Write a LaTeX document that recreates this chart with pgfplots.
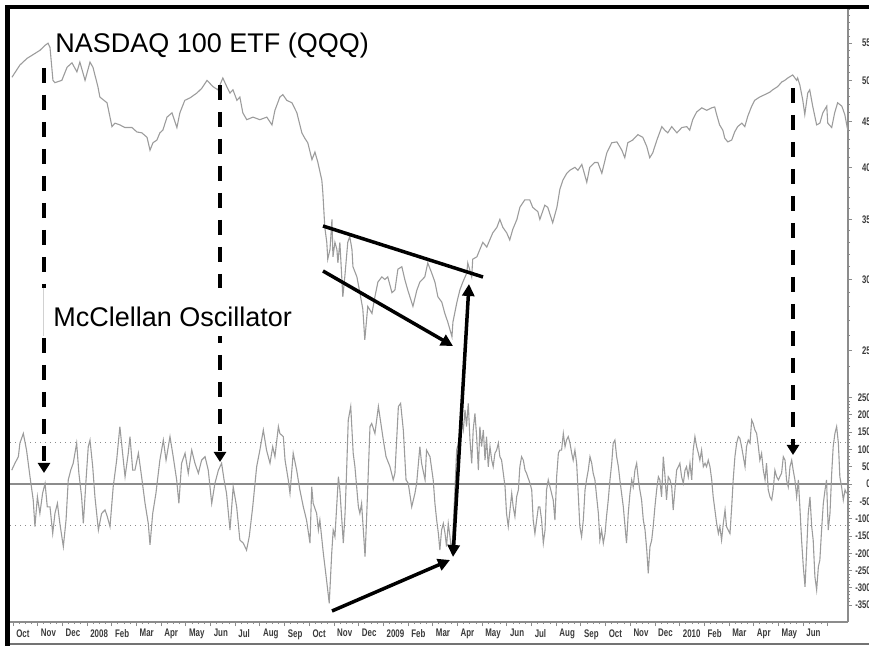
\documentclass[border=0pt]{standalone}
\usepackage{fontspec}
\setmainfont{Liberation Sans}
\usepackage{pgfplots}
\usepackage{pgfplotstable}
\pgfplotsset{compat=1.18}
\usetikzlibrary{arrows.meta}

\definecolor{trace}{HTML}{9C9C9C}
\definecolor{axisgray}{HTML}{8C8C8C}
\definecolor{labelgray}{HTML}{3A3A3A}

% x = months after 1 Oct 2007
\pgfplotstableread{
m price
-0.04 50.4
0.28 52.0
0.57 52.9
0.81 53.4
1.09 54.0
1.30 54.7
1.42 55.0
1.50 54.4
1.62 50.0
1.70 49.7
1.98 50.0
2.19 51.7
2.39 52.3
2.59 51.1
2.71 52.4
2.92 50.0
3.12 52.4
3.24 51.7
3.44 49.2
3.52 47.9
3.81 47.2
4.01 44.4
4.13 44.8
4.33 44.6
4.53 44.3
4.82 44.3
5.02 43.8
5.22 43.7
5.43 43.2
5.55 41.8
5.67 42.6
5.83 42.9
5.95 43.7
6.07 44.0
6.24 45.5
6.44 46.0
6.64 44.3
6.76 46.0
6.96 47.5
7.17 47.8
7.45 48.4
7.65 49.0
7.86 50.0
8.10 49.2
8.30 48.8
8.50 50.3
8.66 49.2
8.79 48.4
8.91 48.8
9.07 47.5
9.19 47.9
9.31 46.0
9.47 45.2
9.72 45.5
10.00 45.2
10.28 45.5
10.49 44.6
10.61 46.3
10.81 47.9
10.93 48.2
11.09 47.5
11.30 47.2
11.50 46.0
11.70 43.7
11.82 43.1
11.94 42.6
12.11 40.8
12.23 41.6
12.35 40.5
12.51 38.7
12.55 37.5
12.63 34.3
12.71 33.0
12.75 31.6
12.84 32.4
12.92 35.0
12.96 31.8
13.04 33.0
13.12 32.4
13.16 31.3
13.24 33.0
13.36 28.7
13.44 30.2
13.56 33.0
13.64 33.5
13.73 32.4
13.77 31.0
13.93 30.2
14.05 29.0
14.17 27.8
14.25 25.7
14.37 28.0
14.54 27.5
14.66 28.7
14.78 29.8
14.94 30.2
15.06 30.0
15.18 30.2
15.35 29.0
15.47 29.2
15.59 30.8
15.75 31.0
15.87 30.0
15.99 29.2
16.20 28.0
16.36 29.2
16.48 29.8
16.68 30.2
16.80 31.3
16.96 30.5
17.09 29.8
17.21 28.7
17.37 28.3
17.49 27.5
17.61 26.9
17.78 25.9
17.82 26.9
17.98 28.3
18.10 29.2
18.22 29.8
18.38 30.5
18.42 31.3
18.58 30.2
18.62 31.6
18.79 31.8
18.91 32.4
19.03 33.0
19.19 32.6
19.31 33.2
19.43 33.8
19.60 34.3
19.72 35.0
19.84 34.3
20.00 33.8
20.12 33.2
20.24 34.1
20.41 35.0
20.53 36.1
20.73 36.8
20.93 36.8
21.05 36.1
21.26 35.7
21.34 35.0
21.54 36.3
21.66 36.1
21.86 34.7
22.03 36.1
22.15 37.8
22.27 38.7
22.43 39.4
22.55 39.7
22.76 40.0
22.88 39.7
23.04 40.3
23.24 38.5
23.36 40.0
23.56 40.5
23.69 40.5
23.85 39.4
24.05 41.5
24.25 42.6
24.46 42.7
24.66 41.8
24.78 41.0
24.90 42.6
25.10 42.9
25.31 43.5
25.51 43.2
25.67 42.2
25.79 41.0
25.91 41.5
26.08 42.9
26.28 44.4
26.40 44.0
26.52 43.7
26.68 44.4
26.89 43.7
27.09 44.3
27.29 44.4
27.41 44.0
27.53 45.2
27.69 46.1
27.90 46.6
28.10 46.3
28.30 46.6
28.42 46.7
28.50 45.8
28.62 44.6
28.75 44.0
28.83 43.1
28.95 42.7
29.11 42.9
29.23 43.8
29.35 44.4
29.52 44.8
29.64 44.4
29.76 45.6
29.92 46.8
30.04 47.5
30.24 47.9
30.45 48.2
30.65 48.5
30.77 48.8
30.97 49.2
31.14 49.8
31.26 50.0
31.38 50.3
31.58 50.7
31.74 50.0
31.78 50.3
31.87 49.4
31.99 47.5
32.07 45.8
32.19 48.4
32.27 48.8
32.39 46.8
32.55 44.6
32.68 44.8
32.80 46.0
32.96 46.8
33.00 44.8
33.16 44.3
33.28 46.0
33.40 47.2
33.57 46.8
33.69 45.8
33.81 44.0
}\qqq

\pgfplotstableread{
m osc
-0.05 40
0.08 60
0.22 79
0.28 118
0.42 146
0.55 98
0.69 21
0.82 -46
0.89 -123
0.99 -37
1.09 -85
1.20 -27
1.30 2
1.39 -66
1.50 -66
1.61 -143
1.70 -85
1.80 -56
1.90 -114
2.04 -181
2.15 -104
2.24 12
2.34 40
2.44 60
2.58 118
2.67 31
2.78 -37
2.85 -114
2.96 12
3.05 108
3.12 127
3.23 50
3.32 -37
3.46 -133
3.59 -85
3.73 -75
3.82 -94
3.93 -123
4.06 -8
4.20 69
4.33 166
4.44 89
4.54 21
4.67 89
4.74 137
4.85 40
4.94 40
5.08 89
5.21 21
5.35 -56
5.48 -114
5.55 -176
5.66 -85
5.79 -27
5.95 69
6.09 127
6.20 69
6.36 137
6.49 79
6.63 12
6.72 -56
6.83 60
6.97 89
7.10 31
7.24 98
7.37 60
7.51 31
7.64 69
7.78 79
7.91 40
8.05 -56
8.18 2
8.32 40
8.45 60
8.55 12
8.65 -27
8.79 -133
8.92 -8
9.06 -66
9.19 -162
9.33 -171
9.46 -191
9.57 -152
9.71 -66
9.87 50
10.00 98
10.14 156
10.27 98
10.41 60
10.52 108
10.61 79
10.75 166
10.81 146
10.95 137
11.02 69
11.15 12
11.22 -27
11.35 89
11.49 40
11.62 -17
11.76 -66
11.89 -104
12.03 -171
12.10 -8
12.16 -56
12.30 -85
12.37 -133
12.43 -104
12.57 -200
12.70 -277
12.81 -345
12.91 -200
12.97 -133
13.04 -152
13.11 -66
13.18 21
13.24 -17
13.38 -171
13.45 -85
13.51 31
13.58 185
13.68 224
13.78 89
13.85 50
13.99 -66
14.05 -85
14.12 -56
14.26 -210
14.32 -104
14.46 166
14.53 175
14.66 146
14.80 224
14.86 195
15.00 127
15.11 79
15.27 50
15.40 12
15.47 31
15.61 224
15.70 233
15.81 156
15.92 12
16.01 2
16.15 -66
16.28 -27
16.35 2
16.48 108
16.55 60
16.69 12
16.75 98
16.89 79
17.02 12
17.09 -56
17.16 -104
17.23 -143
17.29 -191
17.36 -133
17.43 -114
17.50 -143
17.56 -181
17.63 -114
17.70 -152
17.77 -200
17.83 -123
17.90 -17
17.97 98
18.04 118
18.10 108
18.17 185
18.24 156
18.31 214
18.37 166
18.44 233
18.51 127
18.58 60
18.64 156
18.71 204
18.78 137
18.85 40
18.91 166
18.98 108
19.05 156
19.12 69
19.18 137
19.25 50
19.32 108
19.39 69
19.45 50
19.52 89
19.59 98
19.66 118
19.72 79
19.79 69
19.86 31
19.93 -8
19.99 -85
20.06 -123
20.13 -75
20.20 -27
20.26 -66
20.33 -94
20.40 -37
20.47 -17
20.53 50
20.60 79
20.67 69
20.74 40
20.80 31
20.94 2
21.01 -17
21.07 -104
21.14 -143
21.21 -104
21.28 -66
21.34 -66
21.41 -104
21.48 -171
21.55 -133
21.61 -17
21.68 12
21.75 -8
21.88 -46
21.95 -104
22.02 21
22.09 89
22.15 98
22.22 98
22.29 146
22.36 108
22.42 127
22.49 137
22.56 118
22.63 89
22.69 69
22.76 98
22.83 60
22.90 -37
22.96 -123
23.03 -152
23.10 -104
23.17 -17
23.23 12
23.30 40
23.37 79
23.44 60
23.50 31
23.57 12
23.64 -37
23.71 -85
23.77 -162
23.84 -133
23.91 -171
23.98 -143
24.04 -94
24.11 -46
24.18 12
24.25 60
24.31 118
24.38 127
24.45 79
24.52 50
24.58 12
24.65 -27
24.72 -66
24.79 -123
24.85 -171
24.92 -85
24.99 -27
25.06 12
25.12 -8
25.19 40
25.26 60
25.33 12
25.39 -17
25.46 -46
25.53 -104
25.60 -133
25.67 -191
25.73 -258
25.80 -181
25.87 -162
25.93 -123
26.00 -66
26.07 -17
26.14 21
26.20 12
26.27 -37
26.34 79
26.41 21
26.47 -46
26.54 21
26.61 12
26.68 -8
26.74 -75
26.81 -17
26.88 40
26.95 50
27.01 60
27.08 21
27.15 2
27.22 40
27.28 50
27.35 21
27.42 60
27.49 12
27.55 98
27.62 137
27.69 108
27.76 89
27.82 69
27.89 98
27.96 50
28.03 60
28.09 50
28.16 69
28.23 50
28.30 12
28.36 -37
28.43 -75
28.50 -114
28.57 -143
28.63 -123
28.70 -162
28.77 -114
28.84 -75
28.90 -123
28.97 -133
29.04 -143
29.11 -66
29.17 12
29.24 79
29.31 118
29.38 137
29.44 132
29.51 108
29.58 79
29.65 50
29.71 108
29.78 127
29.85 118
29.92 185
29.98 175
30.05 156
30.12 146
30.19 108
30.25 69
30.32 89
30.39 40
30.46 12
30.52 60
30.59 -17
30.66 -37
30.73 -46
30.79 -17
30.86 40
30.93 21
31.00 12
31.06 21
31.13 31
31.20 79
31.27 69
31.33 12
31.40 -8
31.47 50
31.54 69
31.60 40
31.67 12
31.74 -37
31.81 12
31.87 -66
31.94 -162
32.01 -239
32.08 -297
32.14 -200
32.21 -85
32.28 -37
32.35 -123
32.41 -162
32.48 -268
32.55 -306
32.62 -239
32.68 -220
32.75 -133
32.82 -56
32.89 -17
32.95 12
33.02 -133
33.09 -85
33.16 31
33.22 108
33.29 146
33.36 166
33.43 118
33.49 21
33.56 -8
33.63 -46
33.70 -17
33.76 -27
}\mcosc

\begin{document}
\begin{tikzpicture}
\pgfplotsset{
  chartbase/.style={
    scale only axis, width=419pt,
    xmin=-0.12, xmax=33.82,
    axis line style={axisgray, line width=0.6pt},
    tick style={axisgray, line width=0.4pt},
    tick align=outside,
    major tick length=2pt, minor tick length=1pt,
    yticklabel style={font=\fontsize{5.5}{6}\selectfont\bfseries, text=labelgray,
      anchor=east, inner sep=0pt, xshift=9.5pt, xscale=0.7},
  },
}
% price panel
\begin{axis}[chartbase, at={(5pt,-4pt)}, anchor=north west, height=190pt,
  ymode=log, ymin=22.71, ymax=60.2,
  axis x line=none, axis y line*=right,
  ytick={25,30,35,40,45,50,55}, yticklabels={25,30,35,40,45,50,55},
  minor ytick={23,24,26,27,28,29,31,32,33,34,36,37,38,39,41,42,43,44,46,47,48,49,51,52,53,54,56,57,58,59,60},
]
\addplot[trace, line width=0.55pt] table[x=m, y=price] {\qqq};
\end{axis}
% oscillator panel
\begin{axis}[chartbase, at={(5pt,-194pt)}, anchor=north west, height=117pt,
  ymin=-398.8, ymax=277.5,
  axis x line*=bottom, axis y line*=right,
  ytick={-350,-300,...,250},
  yticklabels={-350,-300,-250,-200,-150,-100,-50,0,50,100,150,200,250},
  minor y tick num=4,
  xtick={0,...,33},
  xticklabels={Oct,Nov,Dec,2008,Feb,Mar,Apr,May,Jun,Jul,Aug,Sep,Oct,Nov,Dec,2009,Feb,Mar,Apr,May,Jun,Jul,Aug,Sep,Oct,Nov,Dec,2010,Feb,Mar,Apr,May,Jun,{}},
  minor x tick num=3,
  xticklabel style={font=\fontsize{5.5}{6}\selectfont\bfseries, text=labelgray,
    anchor=north west, inner sep=0pt, xshift=1.5pt, yshift=-1.5pt, xscale=0.72},
]
\addplot[axisgray, line width=0.6pt] coordinates {(-0.12,0) (33.82,0)};
\addplot[axisgray, dotted, line width=0.5pt] coordinates {(-0.12,120) (33.82,120)};
\addplot[axisgray, dotted, line width=0.5pt] coordinates {(-0.12,-120) (33.82,-120)};
\addplot[trace, line width=0.55pt] table[x=m, y=osc] {\mcosc};
\end{axis}

% annotations, in picture pixels (y downwards)
\begin{scope}[x=0.5pt, y=-0.5pt]
  \tikzset{dasharrow/.style={line width=2pt, dash pattern=on 7.5pt off 6pt,
      -{Triangle[length=5pt,width=6pt]}},
    solidarrow/.style={line width=1.75pt, -{Triangle[length=6pt,width=6pt]}}}
  \draw[dasharrow] (44,68) -- (44,473);
  \draw[dasharrow] (220,85) -- (220,462);
  \draw[dasharrow] (793,88) -- (793,455);
  \draw[line width=1.75pt] (323,226) -- (483,277);
  \draw[solidarrow] (323,271) -- (453,346);
  \draw[line width=1.75pt, {Triangle[length=6pt,width=6pt]}-{Triangle[length=6pt,width=6pt]}] (453,557) -- (469,284);
  \draw[solidarrow] (332,611) -- (450,560);
  \node[anchor=base west, inner sep=0pt, font=\fontsize{13.5}{16}\selectfont] at (55,53) {NASDAQ 100 ETF (QQQ)};
  \fill[white] (42,288) rectangle (310,336);
  \draw[black!18, line width=0.5pt] (43,288) -- (43,336);
  \node[anchor=base west, inner sep=0pt, font=\fontsize{13.5}{16}\selectfont] at (53,327) {McClellan Oscillator};
  % frame
  \fill[black] (5,5) rectangle (869,9);
  \fill[black] (5,5) rectangle (10,646);
  \draw[black!55, line width=0.8pt] (10,644) -- (869,644);
\end{scope}
\pgfresetboundingbox
\path[use as bounding box] (0pt,0pt) rectangle (434.5pt,-323pt);
\end{tikzpicture}
\end{document}
